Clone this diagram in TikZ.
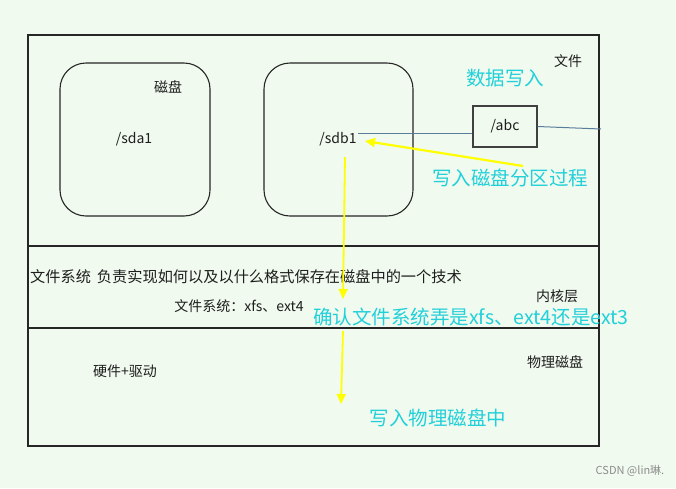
\documentclass[tikz,border=0pt]{standalone}
\usepackage{fontspec}
\setmainfont{Noto Sans CJK SC}
\usetikzlibrary{arrows.meta}
\definecolor{bg}{RGB}{240,250,238}
\definecolor{cyanlbl}{RGB}{34,208,218}
\definecolor{linkline}{RGB}{90,125,155}
\definecolor{ylw}{RGB}{255,255,0}
\definecolor{txt}{RGB}{30,30,30}
\tikzset{
  frame/.style={draw=black!85, line width=1.1pt},
  disk/.style={draw=black!85, line width=1.1pt, rounded corners=26pt},
  plain/.style={font=\fontsize{14}{16}\selectfont, text=txt, inner sep=0pt},
  big/.style={font=\fontsize{19.5}{22}\selectfont, text=cyanlbl, inner sep=0pt},
  link/.style={draw=linkline, line width=1pt},
  yarrow/.style={draw=ylw, line width=1.8pt, -{Triangle[length=10pt,width=9pt]}},
}
\begin{document}
\begin{tikzpicture}[x=1pt,y=-1pt]
\fill[bg] (0,0) rectangle (676,488);
\useasboundingbox (0,0) rectangle (676,488);
% outer frame and layers
\draw[frame] (28,35) rectangle (599,446);
\draw[frame] (28,246) -- (599,246);
\draw[frame] (28,328) -- (599,328);
% disk boxes
\draw[disk] (60,63) rectangle (210,216);
\draw[disk] (264,63) rectangle (413,216);
\node[plain] (cipan) at (168,87) {磁盘};
\node[plain] (sda1) at (134,139) {/sda1};
\node[plain] (sdb1) at (338,139) {/sdb1};
% abc box
\node[draw=black!75, line width=1.1pt, minimum width=64pt, minimum height=41pt, font=\fontsize{14}{16}\selectfont, text=txt] (abc) at (505,126.5) {/abc};
\node[plain] (wenjian) at (568,61) {文件};
\node[big] (shuju) at (505,78) {数据写入};
% link lines
\coordinate (sdbR) at (358,133);
\coordinate (free) at (601,129);
\draw[link] (sdbR) -- (sdbR -| abc.west);
\draw[link] (abc.east) -- (free);
% yellow arrow to sdb1
\coordinate (ys) at (523,166);
\coordinate (ye) at (365,141);
\draw[yarrow, line width=2.2pt] (ys) -- (ye);
\node[big] (xieru) at (510,178) {写入磁盘分区过程};
% kernel layer texts
\node[plain, anchor=west, font=\fontsize{15.2}{17}\selectfont] (fsdesc) at (30,277) {文件系统\hspace{6pt}负责实现如何以及以什么格式保存在磁盘中的一个技术};
\node[plain] (fstypes) at (239,306) {文件系统：xfs、ext4};
\node[plain] (neihe) at (557,296) {内核层};
\node[big, anchor=west] (queren) at (313,317) {确认文件系统弄是xfs、ext4还是ext3};
% vertical yellow arrows
\coordinate (d1s) at (345,157);
\coordinate (d1e) at (343,299);
\draw[yarrow] (d1s) -- (d1e);
\coordinate (d2s) at (343,331);
\coordinate (d2e) at (341,404);
\draw[yarrow] (d2s) -- (d2e);
% physical layer
\node[plain] (wuli) at (555,362) {物理磁盘};
\node[plain] (yingjian) at (125,371) {硬件+驱动};
\node[big] (xiewuli) at (438,418) {写入物理磁盘中};
% watermark
\node[font=\fontsize{11}{13}\selectfont, text=black!45, inner sep=0pt] (csdn) at (630,471) {CSDN @lin琳.};
\end{tikzpicture}
\end{document}
